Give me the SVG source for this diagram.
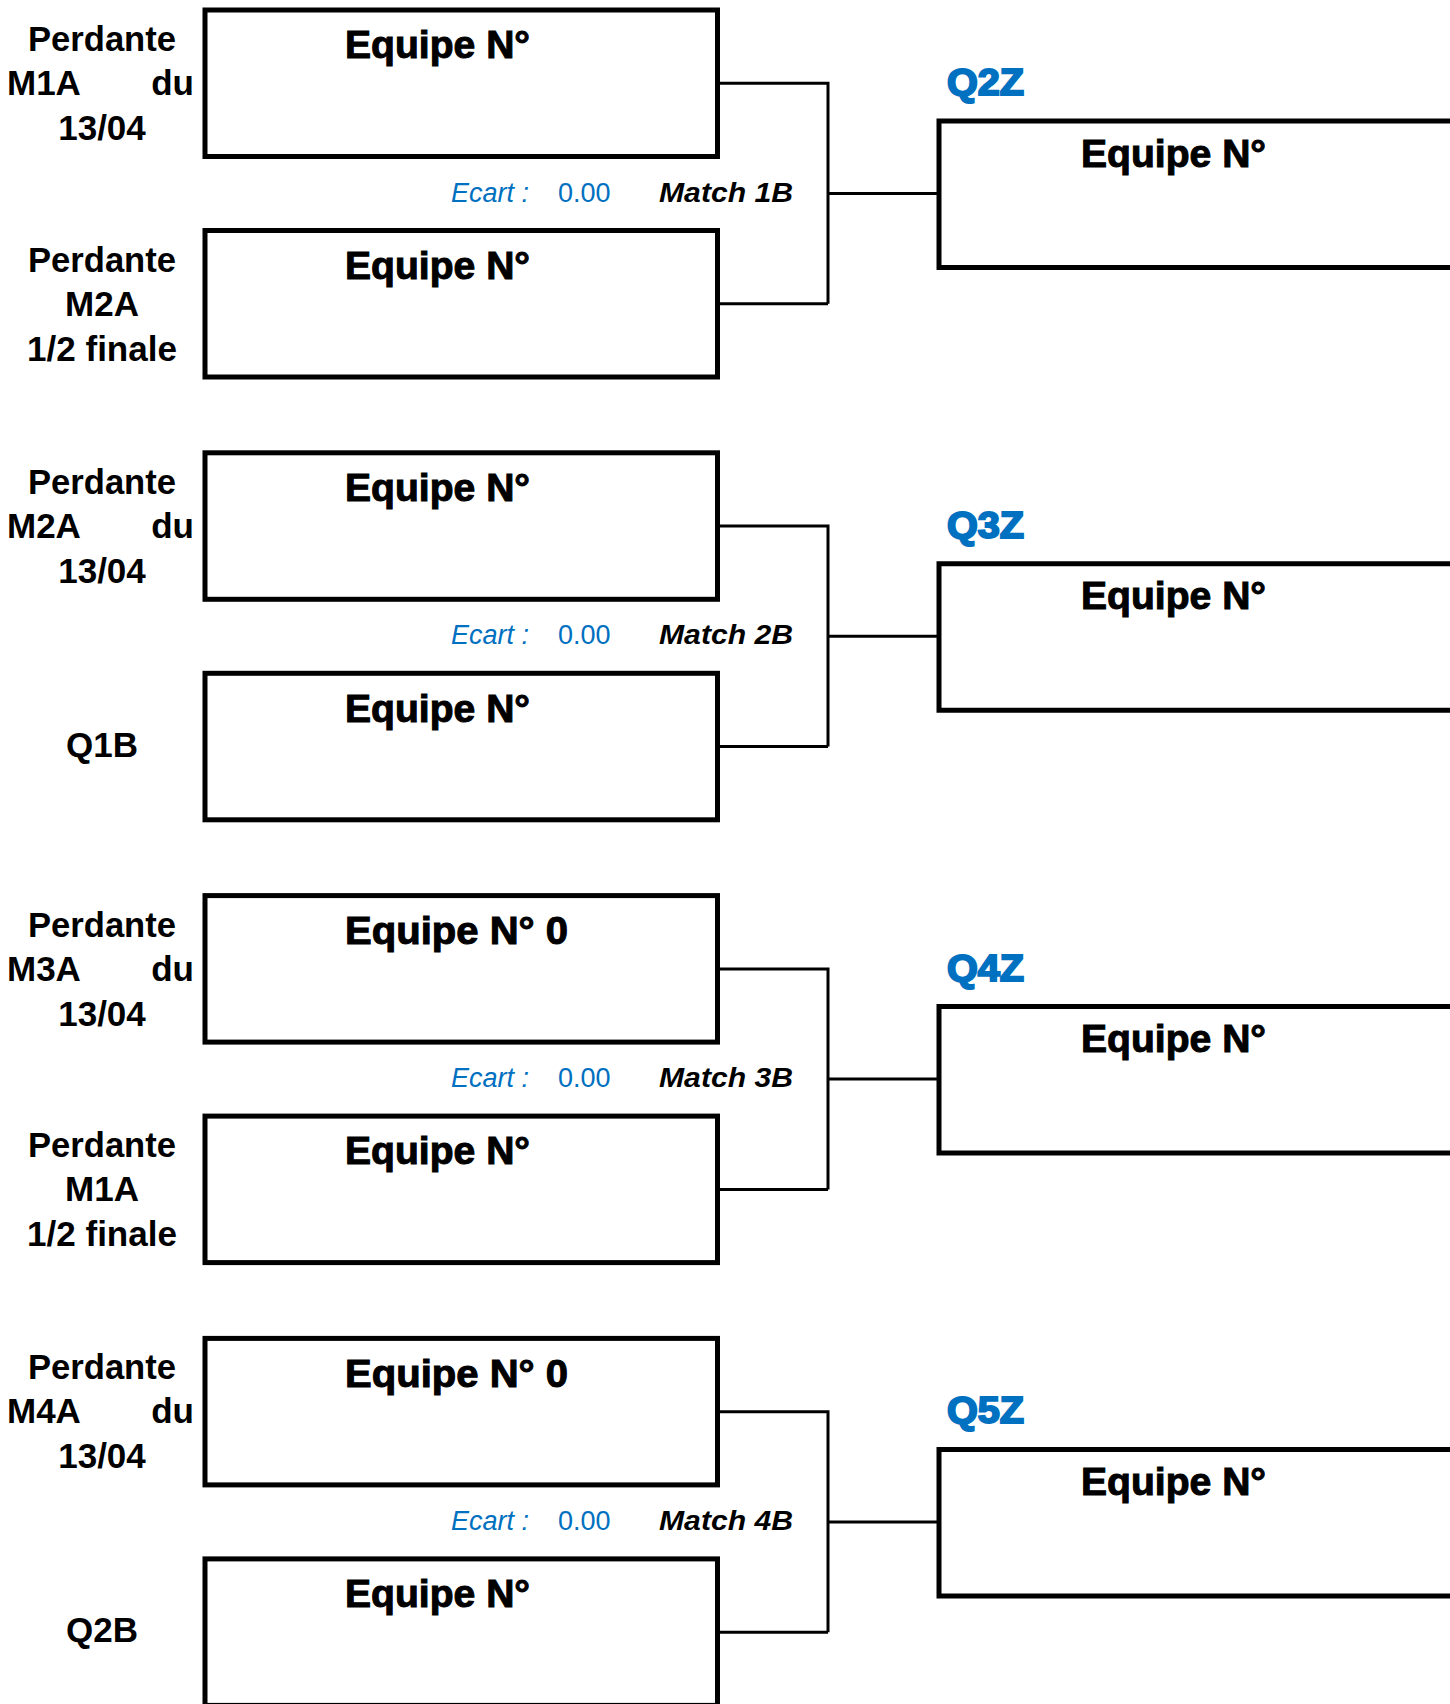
<svg xmlns="http://www.w3.org/2000/svg" width="1450" height="1704" viewBox="0 0 1450 1704">
<style>
.box{fill:none;stroke:#000;stroke-width:5}
.con{fill:none;stroke:#000;stroke-width:3}
.lbl{font-family:"Liberation Sans",Arial,sans-serif;font-weight:bold;font-size:35px;fill:#000}
.eq{font-family:"Liberation Sans",Arial,sans-serif;font-weight:bold;font-size:38px;fill:#000;stroke:#000;stroke-width:1}
.ec{font-family:"Liberation Sans",Arial,sans-serif;font-style:italic;font-size:27px;fill:#0070C0}
.val{font-family:"Liberation Sans",Arial,sans-serif;font-size:27px;fill:#0070C0}
.m{font-family:"Liberation Sans",Arial,sans-serif;font-style:italic;font-weight:bold;font-size:28px;fill:#000}
.q{font-family:"Liberation Sans",Arial,sans-serif;font-weight:bold;font-size:37px;fill:#0070C0;stroke:#0070C0;stroke-width:2}
</style>
<rect width="1450" height="1704" fill="#fff"/>

<g id="connectors">
  <path class="con" d="M717.5,83.3 H828 V303.8 M717.5,303.8 H828 M828,193.5 H939"/>
  <path class="con" d="M717.5,526.1 H828 V746.6 M717.5,746.6 H828 M828,636.3 H939"/>
  <path class="con" d="M717.5,968.9 H828 V1189.4 M717.5,1189.4 H828 M828,1079.1 H939"/>
  <path class="con" d="M717.5,1411.7 H828 V1632.2 M717.5,1632.2 H828 M828,1521.9 H939"/>
</g>

<!-- Group 1 -->
<g transform="translate(0,10)">
  <g id="team-1a">
    <rect class="box" x="205" y="0" width="512.5" height="146.5"/>
    <text class="eq" x="345" y="48.3" textLength="185" lengthAdjust="spacingAndGlyphs">Equipe N°</text>
    <text class="lbl" x="102" y="41" text-anchor="middle" textLength="148" lengthAdjust="spacingAndGlyphs">Perdante</text>
    <text class="lbl" x="7" y="85">M1A</text>
    <text class="lbl" x="194" y="85" text-anchor="end">du</text>
    <text class="lbl" x="102" y="130" text-anchor="middle">13/04</text>
  </g>
  <g id="team-1b">
    <rect class="box" x="205" y="220.5" width="512.5" height="146.5"/>
    <text class="eq" x="345" y="268.8" textLength="185" lengthAdjust="spacingAndGlyphs">Equipe N°</text>
    <text class="lbl" x="102" y="261.5" text-anchor="middle" textLength="148" lengthAdjust="spacingAndGlyphs">Perdante</text>
    <text class="lbl" x="102" y="305.5" text-anchor="middle">M2A</text>
    <text class="lbl" x="102" y="350.5" text-anchor="middle" textLength="150" lengthAdjust="spacingAndGlyphs">1/2 finale</text>
  </g>
  <g id="match-1b">
    <text class="ec" x="451" y="191.7">Ecart :</text>
    <text class="val" x="558" y="191.7">0.00</text>
    <text class="m" x="659" y="191.7" textLength="134" lengthAdjust="spacingAndGlyphs">Match 1B</text>
  </g>
  <g id="q2z">
    <text class="q" x="947" y="85" textLength="77" lengthAdjust="spacingAndGlyphs">Q2Z</text>
    <path class="box" d="M1460,111 H939 V257.5 H1460"/>
    <text class="eq" x="1081" y="156.7" textLength="185" lengthAdjust="spacingAndGlyphs">Equipe N°</text>
  </g>
</g>

<!-- Group 2 -->
<g transform="translate(0,452.8)">
  <g id="team-2a">
    <rect class="box" x="205" y="0" width="512.5" height="146.5"/>
    <text class="eq" x="345" y="48.3" textLength="185" lengthAdjust="spacingAndGlyphs">Equipe N°</text>
    <text class="lbl" x="102" y="41" text-anchor="middle" textLength="148" lengthAdjust="spacingAndGlyphs">Perdante</text>
    <text class="lbl" x="7" y="85">M2A</text>
    <text class="lbl" x="194" y="85" text-anchor="end">du</text>
    <text class="lbl" x="102" y="130" text-anchor="middle">13/04</text>
  </g>
  <g id="team-2b">
    <rect class="box" x="205" y="220.5" width="512.5" height="146.5"/>
    <text class="eq" x="345" y="268.8" textLength="185" lengthAdjust="spacingAndGlyphs">Equipe N°</text>
    <text class="lbl" x="102" y="304" text-anchor="middle">Q1B</text>
  </g>
  <g id="match-2b">
    <text class="ec" x="451" y="191.7">Ecart :</text>
    <text class="val" x="558" y="191.7">0.00</text>
    <text class="m" x="659" y="191.7" textLength="134" lengthAdjust="spacingAndGlyphs">Match 2B</text>
  </g>
  <g id="q3z">
    <text class="q" x="947" y="85" textLength="77" lengthAdjust="spacingAndGlyphs">Q3Z</text>
    <path class="box" d="M1460,111 H939 V257.5 H1460"/>
    <text class="eq" x="1081" y="156.7" textLength="185" lengthAdjust="spacingAndGlyphs">Equipe N°</text>
  </g>
</g>

<!-- Group 3 -->
<g transform="translate(0,895.6)">
  <g id="team-3a">
    <rect class="box" x="205" y="0" width="512.5" height="146.5"/>
    <text class="eq" x="345" y="48.3" textLength="223" lengthAdjust="spacingAndGlyphs">Equipe N° 0</text>
    <text class="lbl" x="102" y="41" text-anchor="middle" textLength="148" lengthAdjust="spacingAndGlyphs">Perdante</text>
    <text class="lbl" x="7" y="85">M3A</text>
    <text class="lbl" x="194" y="85" text-anchor="end">du</text>
    <text class="lbl" x="102" y="130" text-anchor="middle">13/04</text>
  </g>
  <g id="team-3b">
    <rect class="box" x="205" y="220.5" width="512.5" height="146.5"/>
    <text class="eq" x="345" y="268.8" textLength="185" lengthAdjust="spacingAndGlyphs">Equipe N°</text>
    <text class="lbl" x="102" y="261.5" text-anchor="middle" textLength="148" lengthAdjust="spacingAndGlyphs">Perdante</text>
    <text class="lbl" x="102" y="305.5" text-anchor="middle">M1A</text>
    <text class="lbl" x="102" y="350.5" text-anchor="middle" textLength="150" lengthAdjust="spacingAndGlyphs">1/2 finale</text>
  </g>
  <g id="match-3b">
    <text class="ec" x="451" y="191.7">Ecart :</text>
    <text class="val" x="558" y="191.7">0.00</text>
    <text class="m" x="659" y="191.7" textLength="134" lengthAdjust="spacingAndGlyphs">Match 3B</text>
  </g>
  <g id="q4z">
    <text class="q" x="947" y="85" textLength="77" lengthAdjust="spacingAndGlyphs">Q4Z</text>
    <path class="box" d="M1460,111 H939 V257.5 H1460"/>
    <text class="eq" x="1081" y="156.7" textLength="185" lengthAdjust="spacingAndGlyphs">Equipe N°</text>
  </g>
</g>

<!-- Group 4 -->
<g transform="translate(0,1338.4)">
  <g id="team-4a">
    <rect class="box" x="205" y="0" width="512.5" height="146.5"/>
    <text class="eq" x="345" y="48.3" textLength="223" lengthAdjust="spacingAndGlyphs">Equipe N° 0</text>
    <text class="lbl" x="102" y="41" text-anchor="middle" textLength="148" lengthAdjust="spacingAndGlyphs">Perdante</text>
    <text class="lbl" x="7" y="85">M4A</text>
    <text class="lbl" x="194" y="85" text-anchor="end">du</text>
    <text class="lbl" x="102" y="130" text-anchor="middle">13/04</text>
  </g>
  <g id="team-4b">
    <rect class="box" x="205" y="220.5" width="512.5" height="146.5"/>
    <text class="eq" x="345" y="268.8" textLength="185" lengthAdjust="spacingAndGlyphs">Equipe N°</text>
    <text class="lbl" x="102" y="304" text-anchor="middle">Q2B</text>
  </g>
  <g id="match-4b">
    <text class="ec" x="451" y="191.7">Ecart :</text>
    <text class="val" x="558" y="191.7">0.00</text>
    <text class="m" x="659" y="191.7" textLength="134" lengthAdjust="spacingAndGlyphs">Match 4B</text>
  </g>
  <g id="q5z">
    <text class="q" x="947" y="85" textLength="77" lengthAdjust="spacingAndGlyphs">Q5Z</text>
    <path class="box" d="M1460,111 H939 V257.5 H1460"/>
    <text class="eq" x="1081" y="156.7" textLength="185" lengthAdjust="spacingAndGlyphs">Equipe N°</text>
  </g>
</g>
</svg>
